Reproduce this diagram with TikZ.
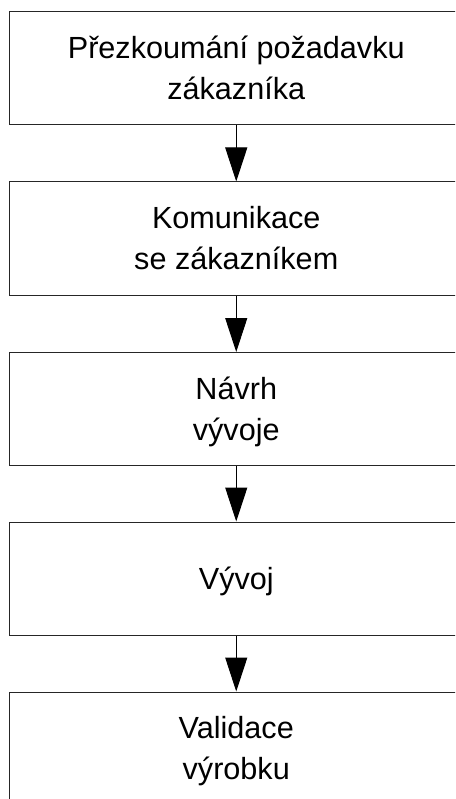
\documentclass[tikz,border=0pt]{standalone}
\usepackage{fontspec}
\setmainfont{Liberation Sans}
\usetikzlibrary{arrows.meta}
\newcommand\lstrut{\rule[-6.5pt]{0pt}{34.2pt}}
\begin{document}
\begin{tikzpicture}[x=1pt,y=-1pt,
  stepbox/.style={draw=black!85, line width=1pt, minimum width=453.5pt, minimum height=113pt,
    inner sep=0pt, align=center, font=\fontsize{30.6}{41}\selectfont},
  flow/.style={draw=black, line width=1pt, -{Triangle[width=22pt,length=34pt]}}]
\useasboundingbox (0,0) rectangle (455,799);
\clip (0,0) rectangle (455,799);
\fill[white] (0,0) rectangle (455,799);
\node[stepbox] (b1) at (236.25,68.5) {\lstrut Přezkoumání požadavku\\\lstrut zákazníka};
\node[stepbox] (b2) at (236.25,238.5) {\lstrut Komunikace\\\lstrut se zákazníkem};
\node[stepbox] (b3) at (236.25,409) {\lstrut Návrh\\\lstrut vývoje};
\node[stepbox] (b4) at (236.25,578.5) {\lstrut Vývoj};
\node[stepbox] (b5) at (236.25,748.5) {\lstrut Validace\\\lstrut výrobku};
\draw[flow] (b1.south) -- (b2.north);
\draw[flow] (b2.south) -- (b3.north);
\draw[flow] (b3.south) -- (b4.north);
\draw[flow] (b4.south) -- (b5.north);
\end{tikzpicture}
\end{document}
